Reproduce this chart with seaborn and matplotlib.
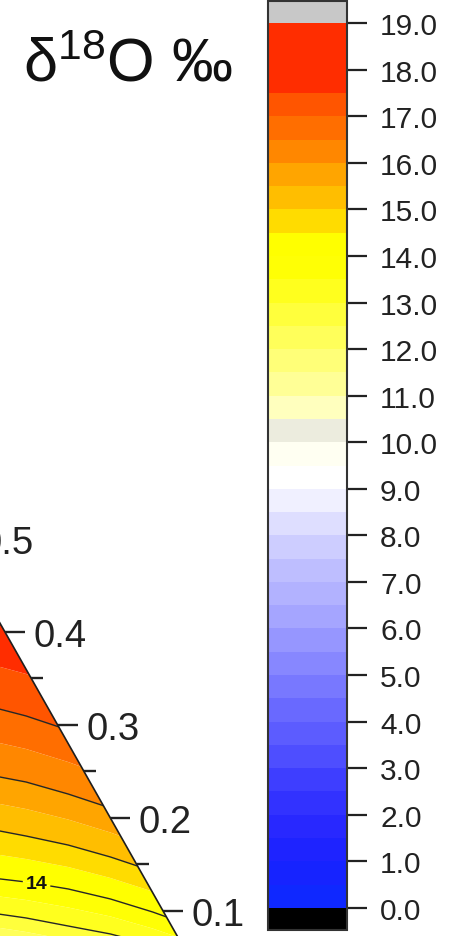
import numpy as np
import matplotlib
matplotlib.use("Agg")
import matplotlib.pyplot as plt
import seaborn as sns
from matplotlib.colors import ListedColormap, Normalize
from matplotlib.patches import Polygon

# ---------------- data ----------------
band_levels = [i * 0.5 for i in range(39)]          # 0.0 ... 19.0, 0.5 steps
band_colors = [
    "#0f28ff", "#1623ff", "#1e23ff", "#2828ff", "#3232ff", "#3e3eff",
    "#4e4eff", "#5c5cff", "#6969ff", "#7878ff", "#8787ff", "#9696ff",
    "#a5a5ff", "#b2b2ff", "#bebeff", "#cdcdff", "#dedeff", "#f0f0ff",
    "#ffffff", "#fffff2", "#ececde", "#ffffbe", "#ffff96", "#ffff78",
    "#ffff5a", "#ffff3c", "#ffff1e", "#ffff05", "#ffff00", "#ffdc00",
    "#ffbe00", "#ffa500", "#ff8700", "#ff6e00", "#ff5500", "#ff2d00",
    "#ff2d00", "#ff2d00",
]
under_color = "#000000"
over_color = "#c8c8c8"
cbar_ticks = [0.0, 1.0, 2.0, 3.0, 4.0, 5.0, 6.0, 7.0, 8.0, 9.0, 10.0,
              11.0, 12.0, 13.0, 14.0, 15.0, 16.0, 17.0, 18.0, 19.0]

# contour field: positions (ternary cartesian) where each value is reached
field_columns_x = [0.74, 0.78, 0.82, 0.86, 0.90, 0.94, 0.98, 1.00]
field_values = [11, 12, 13, 14, 15, 16, 17, 18, 19]
field_rows_y = [
    [0.0419, 0.0363, 0.0289, 0.0205, 0.0102, -0.0019, -0.0168, -0.0251],  # 11
    [0.0652, 0.0605, 0.0540, 0.0466, 0.0372, 0.0261, 0.0121, 0.0047],     # 12
    [0.0894, 0.0857, 0.0801, 0.0726, 0.0652, 0.0549, 0.0419, 0.0345],     # 13
    [0.1229, 0.1182, 0.1136, 0.1071, 0.0978, 0.0857, 0.0717, 0.0642],     # 14
    [0.1685, 0.1639, 0.1564, 0.1480, 0.1369, 0.1238, 0.1080, 0.0996],     # 15
    [0.2207, 0.2142, 0.2067, 0.1955, 0.1825, 0.1667, 0.1490, 0.1397],     # 16
    [0.2868, 0.2784, 0.2682, 0.2551, 0.2393, 0.2207, 0.2002, 0.1890],     # 17
    [0.3678, 0.3575, 0.3464, 0.3324, 0.3147, 0.2933, 0.2700, 0.2579],     # 18
    [0.4655, 0.4516, 0.4358, 0.4181, 0.3957, 0.3678, 0.3399, 0.3259],     # 19
]
line_levels = [12, 13, 14, 15, 16, 17, 18]
label_positions = [(0.83, 0.112)]   # label of the 14 line
edge_ticks_major = [0.1, 0.2, 0.3, 0.4, 0.5]
edge_ticks_minor = [0.15, 0.25, 0.35, 0.45]
title_text = r"δ$^{18}$O ‰"

# ---------------- style ----------------
sns.set_theme(style="white")
plt.rcParams["font.family"] = ["Liberation Sans", "DejaVu Sans"]
plt.rcParams["mathtext.fontset"] = "custom"
plt.rcParams["mathtext.rm"] = "Liberation Sans"
plt.rcParams["mathtext.it"] = "Liberation Sans"
plt.rcParams["mathtext.bf"] = "Liberation Sans:bold"

W, H = 461, 937
fig = plt.figure(figsize=(W / 100, H / 100), dpi=100)
fig.patch.set_facecolor("white")

palette = sns.color_palette(band_colors)
cmap = ListedColormap(palette)
cmap.set_under(under_color)
cmap.set_over(over_color)
norm = Normalize(vmin=band_levels[0], vmax=band_levels[-1])

# ---------------- ternary panel ----------------
ax = fig.add_axes([0, 0, 1, 1])
ax.set_xlim(0.7953, 1.2327)
ax.set_ylim(0.0633, 0.9358)
ax.axis("off")

h = np.sqrt(3) / 2
tri = Polygon([(0, 0), (1, 0), (0.5, h)], closed=True, fc="none",
              ec="#1e1e1e", lw=1.2, zorder=5)
ax.add_patch(tri)

X = np.tile(np.array(field_columns_x), (len(field_values), 1))
Y = np.array(field_rows_y)
Z = np.tile(np.array(field_values, dtype=float)[:, None], (1, len(field_columns_x)))

cf = ax.contourf(X, Y, Z, levels=band_levels, cmap=cmap, norm=norm,
                 extend="both", antialiased=True)
cf.set_clip_path(tri)
cl = ax.contour(X, Y, Z, levels=line_levels, colors="#262626", linewidths=1.0)
cl.set_clip_path(tri)
lbls = ax.clabel(cl, manual=label_positions, inline=True, inline_spacing=3,
                 fmt="%d", fontsize=14, colors="#111111")
for t in lbls:
    t.set_fontweight("bold")
    t.set_rotation(0)

# right-edge axis of the ternary plot
for v in edge_ticks_major:
    x0, y0 = 1 - v / 2, v * h
    ax.plot([x0, x0 + 0.019], [y0, y0], color="#222222", lw=1.7,
            solid_capstyle="butt", clip_on=False, zorder=6)
    ax.text(x0 + 0.027, y0, f"{v:.1f}", ha="left", va="center_baseline",
            fontsize=27.5, color="#222222")
for v in edge_ticks_minor:
    x0, y0 = 1 - v / 2, v * h
    ax.plot([x0, x0 + 0.0115], [y0, y0], color="#222222", lw=1.7,
            solid_capstyle="butt", clip_on=False, zorder=6)

# ---------------- colorbar ----------------
cax = fig.add_axes([268 / W, (H - 931) / H, (347 - 268) / W, (931 - 2) / H])
cb = fig.colorbar(cf, cax=cax, ticks=cbar_ticks, extendrect=True,
                  extendfrac=0.025, format="%.1f")
cb.outline.set_linewidth(1.5)
cb.outline.set_edgecolor("#333333")
cax.tick_params(axis="y", which="major", length=14.4, width=1.6, pad=9.4,
                labelsize=21.5, colors="#222222", direction="out",
                right=True, left=False)
cax.minorticks_off()

# ---------------- title ----------------
fig.text(23 / W, 1 - 82 / H, title_text, fontsize=44, ha="left",
         va="baseline", color="#111111")

fig.savefig("out.png", dpi=100, facecolor="white")
